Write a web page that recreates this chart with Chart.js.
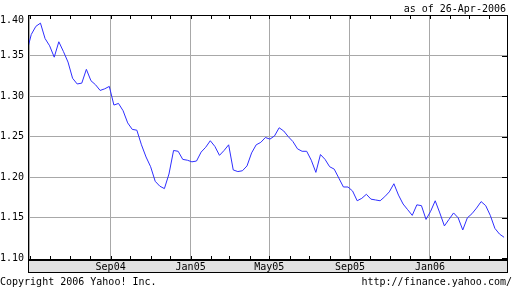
<!DOCTYPE html>
<html>
<head>
<meta charset="utf-8">
<script src="https://cdn.jsdelivr.net/npm/chart.js@4/dist/chart.umd.min.js"></script>
<style>
  body { margin: 0; background: #fff; }
  #wrap { position: relative; width: 512px; height: 288px; overflow: hidden; }
  #graph { position: absolute; left: 0; top: 0; }
  .txt { position: absolute; font: 10px "DejaVu Sans Mono", monospace; line-height: 12px; color: #000; white-space: pre; }
</style>
</head>
<body>
<div id="wrap">
  <canvas id="graph" width="512" height="288"></canvas>
  <div class="txt" style="right:6px; top:3px;">as of 26-Apr-2006</div>
  <div class="txt" style="left:0; top:276px;">Copyright 2006 Yahoo! Inc.</div>
  <div class="txt" style="right:0; top:276px;">http://finance.yahoo.com/</div>
</div>
<script>
// weekly closes, first week starting 26-Apr-2004
const firstWeek = '2004-04-26';
const closes = [
  1.354, 1.376, 1.386, 1.390, 1.371, 1.362, 1.348, 1.367, 1.355, 1.342,
  1.322, 1.315, 1.316, 1.333, 1.319, 1.314, 1.307, 1.309, 1.312, 1.289,
  1.291, 1.282, 1.267, 1.259, 1.258, 1.240, 1.225, 1.213, 1.195, 1.189,
  1.186, 1.204, 1.233, 1.232, 1.222, 1.221, 1.219, 1.220, 1.231, 1.237,
  1.245, 1.238, 1.227, 1.233, 1.240, 1.209, 1.207, 1.208, 1.214, 1.230,
  1.240, 1.243, 1.249, 1.247, 1.251, 1.261, 1.257, 1.250, 1.244, 1.235,
  1.232, 1.232, 1.221, 1.206, 1.228, 1.222, 1.213, 1.210, 1.199, 1.188,
  1.188, 1.183, 1.171, 1.174, 1.179, 1.173, 1.172, 1.171, 1.176, 1.182,
  1.192, 1.178, 1.167, 1.160, 1.153, 1.166, 1.165, 1.148, 1.158, 1.171,
  1.156, 1.140, 1.148, 1.156, 1.150, 1.135, 1.150, 1.155, 1.162, 1.170,
  1.165, 1.153, 1.137, 1.130, 1.126
];
const yTicks = [1.10, 1.15, 1.20, 1.25, 1.30, 1.35, 1.40];
const xLabels = ['Sep04', 'Jan05', 'May05', 'Sep05', 'Jan06'];
const monNames = ['Jan','Feb','Mar','Apr','May','Jun','Jul','Aug','Sep','Oct','Nov','Dec'];

const DAY = 86400000;
const t0 = Date.parse(firstWeek);
const points = closes.map((v, i) => ({ x: i * 7, y: v }));

// month starts May04 .. Apr06, as days after the first week
let monthDays = [];
let monthNames = [];
for (let m = 4; m < 28; m++) {
    let t = Date.UTC(2004, m, 1);
    let d = new Date(t);
    monthDays.push((t - t0) / DAY);
    monthNames.push(monNames[d.getUTCMonth()] + String(d.getUTCFullYear()).slice(2));
}

const gridGray = '#a8a8a8';
const mono = { family: 'DejaVu Sans Mono', size: 10 };
const topTick = yTicks[yTicks.length - 1];

const frame = {
    id: 'frame',
    beforeDraw(c) {
        const a = c.chartArea, ctx = c.ctx;
        ctx.save();
        ctx.fillStyle = '#e2e2e2';
        ctx.fillRect(a.left, a.bottom, a.right - a.left, 13);
        ctx.restore();
    },
    afterDraw(c) {
        const a = c.chartArea, ctx = c.ctx;
        const xs = c.scales.x, ys = c.scales.y;
        ctx.save();
        ctx.fillStyle = '#000';
        ctx.fillRect(a.left, a.top, 1, a.bottom - a.top + 13);
        ctx.fillRect(a.right - 1, a.top, 1, a.bottom - a.top + 13);
        ctx.fillRect(a.left, a.top, a.right - a.left, 1);
        ctx.fillRect(a.left, a.bottom - 1, a.right - a.left, 2);
        ctx.fillRect(a.left, a.bottom + 12, a.right - a.left, 1);
        monthDays.forEach(d => {
            let px = Math.round(xs.getPixelForValue(d));
            ctx.fillRect(px, a.bottom - 4, 1, 3);
            ctx.fillRect(px, a.top + 1, 1, 3);
        });
        yTicks.forEach(v => {
            let py = Math.round(ys.getPixelForValue(v));
            ctx.fillRect(a.right - 6, py, 5, 1);
        });
        // top label sits a little lower so it is not cut by the frame
        ctx.font = '10px "DejaVu Sans Mono"';
        ctx.textAlign = 'right';
        ctx.textBaseline = 'middle';
        ctx.fillText(topTick.toFixed(2), a.left - 4, ys.getPixelForValue(topTick) + 5);
        ctx.restore();
    }
};

const chart = new Chart(document.getElementById('graph'), {
    type: 'line',
    data: {
        datasets: [{
            data: points,
            borderColor: '#2e2eff',
            borderWidth: 1,
            pointRadius: 0,
            tension: 0,
            fill: false
        }]
    },
    options: {
        responsive: false,
        animation: false,
        devicePixelRatio: 1,
        layout: { padding: { top: 15, right: 4, bottom: 15, left: 0 } },
        plugins: { legend: { display: false }, tooltip: { enabled: false } },
        scales: {
            x: {
                type: 'linear',
                min: 2,
                max: 734,
                afterBuildTicks: s => { s.ticks = monthDays.map(v => ({ value: v })); },
                afterFit: s => { s.height = 13; },
                grid: {
                    color: ctx => (ctx.index % 4 === 0 ? gridGray : 'rgba(0,0,0,0)'),
                    lineWidth: 1,
                    drawTicks: false
                },
                border: { display: false },
                ticks: {
                    autoSkip: false,
                    maxRotation: 0,
                    padding: 1,
                    color: '#000',
                    font: mono,
                    callback: (v, i) => (xLabels.includes(monthNames[i]) ? monthNames[i] : '')
                }
            },
            y: {
                type: 'linear',
                min: 1.098,
                max: 1.40,
                afterBuildTicks: s => { s.ticks = yTicks.map(v => ({ value: v })); },
                afterFit: s => { s.width = 28; },
                grid: {
                    color: ctx => (ctx.index === 0 || ctx.index === yTicks.length - 1 ? 'rgba(0,0,0,0)' : gridGray),
                    lineWidth: 1,
                    drawTicks: false
                },
                border: { display: false },
                ticks: {
                    padding: 4,
                    color: '#000',
                    font: mono,
                    callback: v => (v === topTick ? '' : Number(v).toFixed(2))
                }
            }
        }
    },
    plugins: [frame]
});
</script>
</body>
</html>
